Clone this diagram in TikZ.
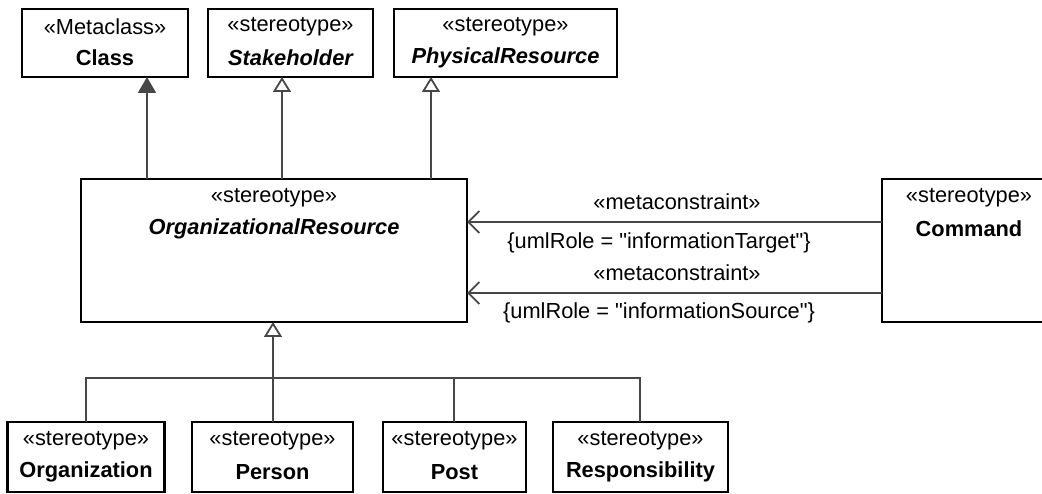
\documentclass[tikz,border=0pt]{standalone}
\usepackage{fontspec}
\setmainfont{Liberation Sans}
\usetikzlibrary{arrows.meta}
\begin{document}
\begin{tikzpicture}[x=1pt,y=-1pt,
  box/.style={draw=black,line width=2.4pt,minimum width=#1,inner sep=0pt,outer sep=0pt},
  txt/.style={inner sep=0pt,font=\fontsize{21.8}{26}\selectfont},
  conn/.style={draw=black!72,line width=2pt},
  genopen/.style={conn,-{Triangle[open,length=15pt,width=18pt,line width=1.8pt]}},
  genfill/.style={conn,-{Triangle[length=16pt,width=18pt]}},
  dep/.style={conn,-{Straight Barb[length=11pt,width=22pt,line width=1.8pt]}}
]
\useasboundingbox (0,0) rectangle (1042,494);
\clip (0,0) rectangle (1042,494);
% top boxes
\node[box=166,minimum height=68] (cls) at (105,43) {};
\node[txt] (clsS) at (105,27) {«Metaclass»};
\node[txt] (clsN) at (105,58) {\bfseries Class};
\node[box=165,minimum height=68] (stk) at (290.5,43) {};
\node[txt] (stkS) at (290.5,27) {«stereotype»};
\node[txt] (stkN) at (290.5,58) {\bfseries\itshape Stakeholder};
\node[box=223,minimum height=68] (phy) at (505.5,43) {};
\node[txt] (phyS) at (505.5,27) {«stereotype»};
\node[txt] (phyN) at (505.5,58) {\bfseries\itshape PhysicalResource};
% organizational resource
\node[box=386,minimum height=143] (org) at (274,250.5) {};
\node[txt] (orgS) at (274,198) {«stereotype»};
\node[txt] (orgN) at (274,229) {\bfseries\itshape OrganizationalResource};
% command
\node[box=174,minimum height=143] (cmd) at (969,250.5) {};
\node[txt] (cmdS) at (969,198) {«stereotype»};
\node[txt] (cmdN) at (969,229) {\bfseries Command};
% bottom boxes
\node[box=157,minimum height=70] (oz) at (86,457) {};
\node[txt] (ozS) at (86,441) {«stereotype»};
\node[txt] (ozN) at (86,472) {\bfseries Organization};
\node[box=161,minimum height=70] (per) at (272.5,457) {};
\node[txt] (perS) at (272.5,441) {«stereotype»};
\node[txt] (perN) at (272.5,472) {\bfseries Person};
\node[box=143,minimum height=70] (pst) at (454.5,457) {};
\node[txt] (pstS) at (454.5,441) {«stereotype»};
\node[txt] (pstN) at (454.5,472) {\bfseries Post};
\node[box=175,minimum height=70] (rsp) at (640.5,457) {};
\node[txt] (rspS) at (640.5,441) {«stereotype»};
\node[txt] (rspN) at (640.5,472) {\bfseries Responsibility};
% connector x positions
\coordinate (xa) at (147,0);
\coordinate (xb) at (282,0);
\coordinate (xc) at (431,0);
\coordinate (xg) at (273,0);
\coordinate (x1) at (86,0);
\coordinate (x3) at (454,0);
\coordinate (x4) at (640,0);
\coordinate (bar) at (0,378);
\coordinate (y1) at (0,222);
\coordinate (y2) at (0,293);
% generalizations upward
\draw[genfill] (org.north -| xa) -- (cls.south -| xa);
\draw[genopen] (org.north -| xb) -- (stk.south -| xb);
\draw[genopen] (org.north -| xc) -- (phy.south -| xc);
% tree from bottom boxes
\draw[conn] (oz.north -| x1) -- (bar -| x1) -- (bar -| x4) -- (rsp.north -| x4);
\draw[conn] (pst.north -| x3) -- (bar -| x3);
\draw[conn] (per.north -| xg) -- (bar -| xg);
\draw[genopen] (bar -| xg) -- (org.south -| xg);
% metaconstraints
\draw[dep] (cmd.west |- y1) -- (org.east |- y1);
\draw[dep] (cmd.west |- y2) -- (org.east |- y2);
\node[txt] (m1) at (677,202) {«metaconstraint»};
\node[txt] (r1) at (659,243) {\{umlRole = \textquotedbl informationTarget\textquotedbl\}};
\node[txt] (m2) at (677,273) {«metaconstraint»};
\node[txt] (r2) at (659,313) {\{umlRole = \textquotedbl informationSource\textquotedbl\}};
\end{tikzpicture}
\end{document}
